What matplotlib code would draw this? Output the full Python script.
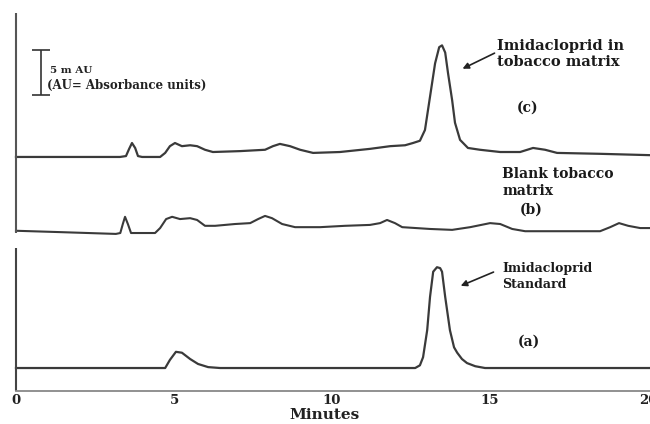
import matplotlib
matplotlib.use("Agg")
import matplotlib.pyplot as plt

# retention time (min) and detector signal above baseline (mAU)
# (a) imidacloprid standard
t_std = [0.0, 4.72, 4.87, 5.06, 5.25, 5.51, 5.76, 6.08, 6.46, 9.0, 12.63, 12.78,
         12.88, 13.01, 13.10, 13.20, 13.32, 13.42, 13.48, 13.58, 13.73, 13.86,
         13.96, 14.11, 14.27, 14.53, 14.84, 20.06]
s_std = [0.0, 0.0, 0.9, 1.8, 1.7, 1.0, 0.45, 0.1, 0.0, 0.0, 0.0, 0.3,
         1.2, 4.2, 7.9, 10.7, 11.2, 11.1, 10.7, 7.9, 4.2, 2.3,
         1.7, 1.0, 0.55, 0.2, 0.0, 0.0]

# (b) blank tobacco matrix
t_blank = [0.0, 1.39, 3.16, 3.30, 3.38, 3.45, 3.54, 3.64, 4.40, 4.56, 4.75, 4.94,
           5.19, 5.51, 5.73, 5.98, 6.30, 6.93, 7.41, 7.66, 7.88, 8.10, 8.42,
           8.83, 9.62, 10.41, 11.20, 11.52, 11.74, 11.99, 12.22, 13.10, 13.80,
           14.37, 15.00, 15.32, 15.70, 16.11, 18.48, 18.80, 19.08, 19.37, 19.75,
           20.06]
s_blank = [0.25, 0.1, -0.1, 0.0, 1.0, 1.8, 1.0, 0.0, 0.0, 0.55, 1.55, 1.8,
           1.55, 1.65, 1.45, 0.8, 0.8, 1.0, 1.1, 1.55, 1.9, 1.65, 1.0,
           0.65, 0.65, 0.8, 0.9, 1.1, 1.45, 1.1, 0.65, 0.45, 0.35,
           0.65, 1.1, 1.0, 0.45, 0.2, 0.2, 0.65, 1.1, 0.8, 0.55,
           0.55]

# (c) imidacloprid in tobacco matrix
t_spiked = [0.0, 1.39, 3.29, 3.48, 3.58, 3.67, 3.77, 3.86, 3.99, 4.56, 4.72, 4.87,
            5.03, 5.25, 5.51, 5.73, 5.98, 6.23, 7.09, 7.88, 8.13, 8.35, 8.67,
            8.99, 9.40, 10.25, 11.20, 11.84, 12.31, 12.56, 12.78, 12.94, 13.10,
            13.26, 13.39, 13.48, 13.58, 13.67, 13.80, 13.89, 14.05, 14.30, 14.68,
            15.32, 15.95, 16.36, 16.74, 17.12, 18.48, 20.06]
s_spiked = [0.0, 0.0, 0.0, 0.1, 0.9, 1.55, 1.0, 0.1, 0.0, 0.0, 0.45, 1.2,
            1.55, 1.2, 1.3, 1.2, 0.8, 0.55, 0.65, 0.8, 1.2, 1.45, 1.2,
            0.8, 0.45, 0.55, 0.9, 1.2, 1.3, 1.55, 1.8, 3.0, 6.7,
            10.4, 12.2, 12.4, 11.6, 9.3, 6.3, 3.8, 1.9, 1.0, 0.8,
            0.55, 0.55, 1.0, 0.8, 0.45, 0.35, 0.2]

# vertical stacking of the three traces (mAU)
offsets = {"a": 2.55, "b": 17.55, "c": 26.0}

x_ticks = [0, 5, 10, 15, 20]
scale_bar = 5  # mAU

line_col = "#3a3a3a"
font = "DejaVu Serif"


def main() -> None:
    fig = plt.figure(figsize=(6.5, 4.24), dpi=100)
    ax = fig.add_axes([0, 0, 1, 1])
    ax.set_xlim(-0.506, 20.06)
    ax.set_ylim(-3.67, 43.44)

    ax.plot(t_std, [v + offsets["a"] for v in s_std], color=line_col, lw=1.6)
    ax.plot(t_blank, [v + offsets["b"] for v in s_blank], color=line_col, lw=1.5)
    ax.plot(t_spiked, [v + offsets["c"] for v in s_spiked], color=line_col, lw=1.6)

    # left signal axes (one for the upper pair, one for the standard)
    ax.vlines(0, offsets["b"], 42.0, color="#555555", lw=1.5)
    ax.vlines(0, 0, 15.9, color="#444444", lw=1.5)

    # time axis
    for side in ["top", "right", "left"]:
        ax.spines[side].set_visible(False)
    ax.spines["bottom"].set_position(("data", 0))
    ax.spines["bottom"].set_bounds(0, 20.06)
    ax.spines["bottom"].set_color("#888888")
    ax.spines["bottom"].set_linewidth(1.3)
    ax.set_yticks([])
    ax.set_xticks(x_ticks)
    ax.set_xticklabels([str(v) for v in x_ticks], fontfamily=font,
                       fontweight="bold", fontsize=9.5, color="#222222")
    ax.tick_params(axis="x", length=0, pad=2)
    ax.set_xlabel("Minutes", fontfamily=font, fontweight="bold", fontsize=11,
                  color="#222222", labelpad=1)

    # scale bar
    sb_x, sb_top = 0.79, 37.9
    ax.vlines(sb_x, sb_top - scale_bar, sb_top, color="#333333", lw=1.2)
    ax.hlines([sb_top, sb_top - scale_bar], 0.51, 1.08, color="#333333", lw=1.2)
    ax.text(1.08, 35.6, "5 m AU", fontfamily=font, fontweight="bold",
            fontsize=7.5, va="center", color="#222222")
    ax.text(0.98, 34.0, "(AU= Absorbance units)", fontfamily=font,
            fontweight="bold", fontsize=8.5, va="center", color="#222222")

    # labels and arrows
    txt = dict(fontfamily=font, fontweight="bold", color="#1a1a1a")
    ax.text(15.22, 37.44, "Imidacloprid in\ntobacco matrix", fontsize=10.5,
            va="center", ha="left", linespacing=1.2, **txt)
    ax.annotate("", xy=(14.05, 35.67), xytext=(15.22, 37.67),
                arrowprops=dict(arrowstyle="-|>", color="#222222", lw=1.2,
                                mutation_scale=9))
    ax.text(16.2, 31.44, "(c)", fontsize=10, ha="center", va="center", **txt)
    ax.text(15.38, 23.17, "Blank tobacco\nmatrix", fontsize=10, va="center",
            ha="left", linespacing=1.2, **txt)
    ax.text(16.3, 20.1, "(b)", fontsize=10, ha="center", va="center", **txt)
    ax.text(15.38, 12.72, "Imidacloprid\nStandard", fontsize=9, va="center",
            ha="left", linespacing=1.25, **txt)
    ax.annotate("", xy=(13.99, 11.56), xytext=(15.19, 13.33),
                arrowprops=dict(arrowstyle="-|>", color="#222222", lw=1.2,
                                mutation_scale=9))
    ax.text(16.23, 5.44, "(a)", fontsize=10, ha="center", va="center", **txt)

    fig.savefig("out.png", dpi=100)


if __name__ == "__main__":
    main()
